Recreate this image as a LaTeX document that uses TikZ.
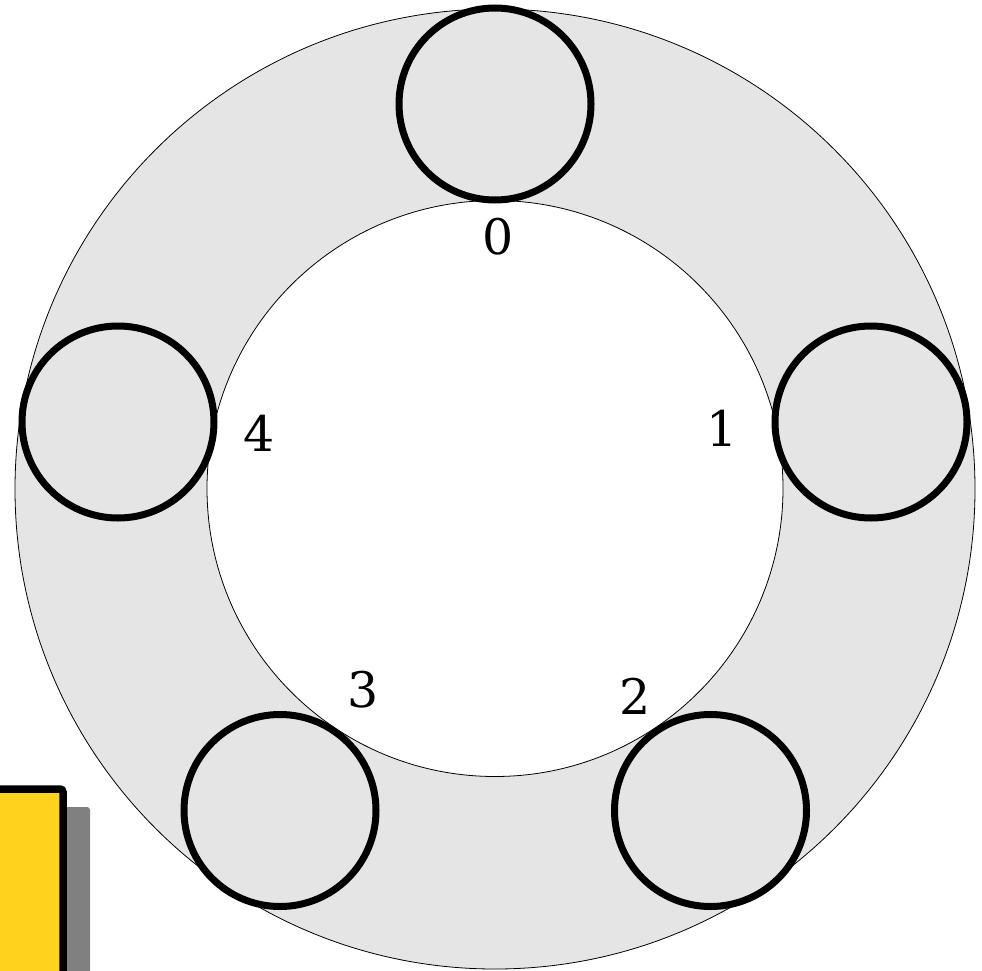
\documentclass[tikz,border=0pt]{standalone}
\usepackage{fontspec}
\setmainfont{DejaVu Serif}
\definecolor{ringgray}{RGB}{229,229,229}
\definecolor{boxyellow}{RGB}{255,210,30}
\definecolor{shadowgray}{RGB}{128,128,128}
\tikzset{
  ring/.style={circle, draw=black, line width=0.8pt, inner sep=0pt, minimum size=#1},
  seat/.style={circle, draw=black, line width=7pt, fill=ringgray, inner sep=0pt, minimum size=192pt},
  seatlabel/.style={inner sep=0pt, font=\fontsize{49}{55}\selectfont},
}
\begin{document}
\begin{tikzpicture}[x=1pt,y=-1pt]
\useasboundingbox (0,0) rectangle (982,971);
\clip (0,0) rectangle (982,971);
% ring
\node[ring=960pt, fill=ringgray] (outer) at (495,489) {};
\node[ring=576pt, fill=white] (inner) at (495,488.5) {};
% seats
\node[seat] (s0) at (495,104) {};
\node[seat] (s1) at (871,422) {};
\node[seat] (s2) at (710.5,810.5) {};
\node[seat] (s3) at (280,810.5) {};
\node[seat] (s4) at (118,422) {};
% labels
\node[seatlabel] (l0) at (498,236.5) {0};
\node[seatlabel] (l1) at (722,428) {1};
\node[seatlabel] (l2) at (635.5,696) {2};
\node[seatlabel] (l3) at (363,690) {3};
\node[seatlabel] (l4) at (259,433) {4};
% yellow box with shadow
\fill[shadowgray, rounded corners=3pt] (-40,807) rectangle (90,1020);
\draw[fill=boxyellow, line width=7.5pt, rounded corners=3pt] (-60,789) rectangle (63,1020);
\end{tikzpicture}
\end{document}
